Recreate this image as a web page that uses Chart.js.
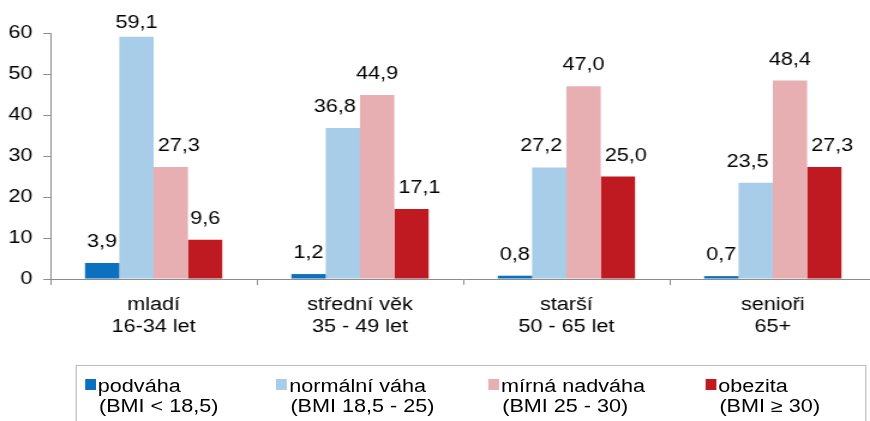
<!DOCTYPE html>
<html>
<head>
<meta charset="utf-8">
<script src="https://cdn.jsdelivr.net/npm/chart.js@4/dist/chart.umd.min.js"></script>
<style>
  html, body { margin: 0; padding: 0; background: #fff; overflow: hidden; width: 870px; height: 421px; }
  /* the source picture is stretched sideways, so the whole chart is too */
  #wrap { position: absolute; left: 0; top: 0; width: 735px; height: 421px; transform: scaleX(1.2); transform-origin: 0 0; }
  #chart { position: absolute; left: 0; top: 0; }
  #legend {
    position: absolute; left: 62.5px; top: 365px; width: 659px; height: 80px;
    border: 1px solid #bdbdbd; box-sizing: border-box;
    font-family: "Liberation Sans", Arial, sans-serif; font-size: 18px; color: #000;
  }
  .item { position: absolute; top: 10px; line-height: 20px; white-space: nowrap; padding-left: 11px; }
  .mark { position: absolute; left: 0; top: 3px; width: 9.2px; height: 11px; }
  .sub { padding-left: 1px; }
</style>
</head>
<body>
<div id="wrap">
  <canvas id="chart" width="735" height="421"></canvas>
  <div id="legend"></div>
</div>
<script>
const categories = [
  ['mladí', '16-34 let'],
  ['střední věk', '35 - 49 let'],
  ['starší', '50 - 65 let'],
  ['senioři', '65+']
];
const seriesNames = ['podváha', 'normální váha', 'mírná nadváha', 'obezita'];
const seriesNotes = ['(BMI < 18,5)', '(BMI 18,5 - 25)', '(BMI 25 - 30)', '(BMI ≥ 30)'];
const podvaha = [3.9, 1.2, 0.8, 0.7];
const normalniVaha = [59.1, 36.8, 27.2, 23.5];
const mirnaNadvaha = [27.3, 44.9, 47.0, 48.4];
const obezita = [9.6, 17.1, 25.0, 27.3];
const yTicks = [0, 10, 20, 30, 40, 50, 60];

const colors = ['#0a70bf', '#a7cde8', '#e8afb2', '#bf1a22'];
const legendX = [7, 166.5, 343, 524];
const FONT = '"Liberation Sans", Arial, sans-serif';

// value labels above bars; a label wider than its bar is pushed away from a taller neighbour
const valueLabels = {
  id: 'valueLabels',
  afterDatasetsDraw(chart) {
    const ctx = chart.ctx;
    const sets = chart.data.datasets;
    ctx.save();
    ctx.font = '18px ' + FONT;
    ctx.fillStyle = '#000';
    ctx.textAlign = 'center';
    ctx.textBaseline = 'alphabetic';
    sets.forEach((ds, i) => {
      chart.getDatasetMeta(i).data.forEach((bar, j) => {
        const v = ds.data[j];
        const txt = v.toFixed(1).replace('.', ',');
        const w = ctx.measureText(txt).width;
        let dx = 0;
        if (w > bar.width) {
          const left = i > 0 ? sets[i - 1].data[j] : 0;
          const right = i < sets.length - 1 ? sets[i + 1].data[j] : 0;
          if (right > v) dx = -6.7;
          else if (left > v) dx = 6.7;
        }
        const y = Math.max(bar.y - 16, 28);
        ctx.fillText(txt, bar.x + dx, y);
      });
    });
    ctx.restore();
  }
};

new Chart(document.getElementById('chart'), {
  type: 'bar',
  data: {
    labels: categories,
    datasets: [podvaha, normalniVaha, mirnaNadvaha, obezita].map((d, i) => ({
      label: seriesNames[i],
      data: d,
      backgroundColor: colors[i],
      borderWidth: 0,
      categoryPercentage: 0.665,
      barPercentage: 1.0
    }))
  },
  options: {
    responsive: false,
    animation: false,
    layout: { padding: { top: 33, right: 5, bottom: 0, left: 0 } },
    plugins: { legend: { display: false }, tooltip: { enabled: false } },
    scales: {
      y: {
        min: 0, max: 60,
        afterBuildTicks: s => { s.ticks = yTicks.map(v => ({ value: v })); },
        afterFit: s => { s.width = 42; },
        ticks: { color: '#000', font: { family: FONT, size: 18 }, padding: 9 },
        grid: { drawOnChartArea: false, drawTicks: true, tickLength: 6, color: '#8c8c8c' },
        border: { display: true, color: '#8c8c8c', width: 1 }
      },
      x: {
        afterFit: s => { s.height = 142; },
        ticks: { color: '#000', font: { family: FONT, size: 18, lineHeight: 1.17 }, padding: 10, maxRotation: 0, autoSkip: false },
        grid: { offset: true, drawOnChartArea: false, drawTicks: true, tickLength: 6, color: '#8c8c8c' },
        border: { display: true, color: '#8c8c8c', width: 1 }
      }
    }
  },
  plugins: [valueLabels]
});

const legend = document.getElementById('legend');
seriesNames.forEach((name, i) => {
  const el = document.createElement('div');
  el.className = 'item';
  el.style.left = legendX[i] + 'px';
  el.innerHTML = '<span class="mark" style="background:' + colors[i] + '"></span>' + name +
    '<div class="sub">' + seriesNotes[i] + '</div>';
  legend.appendChild(el);
});
</script>
</body>
</html>
